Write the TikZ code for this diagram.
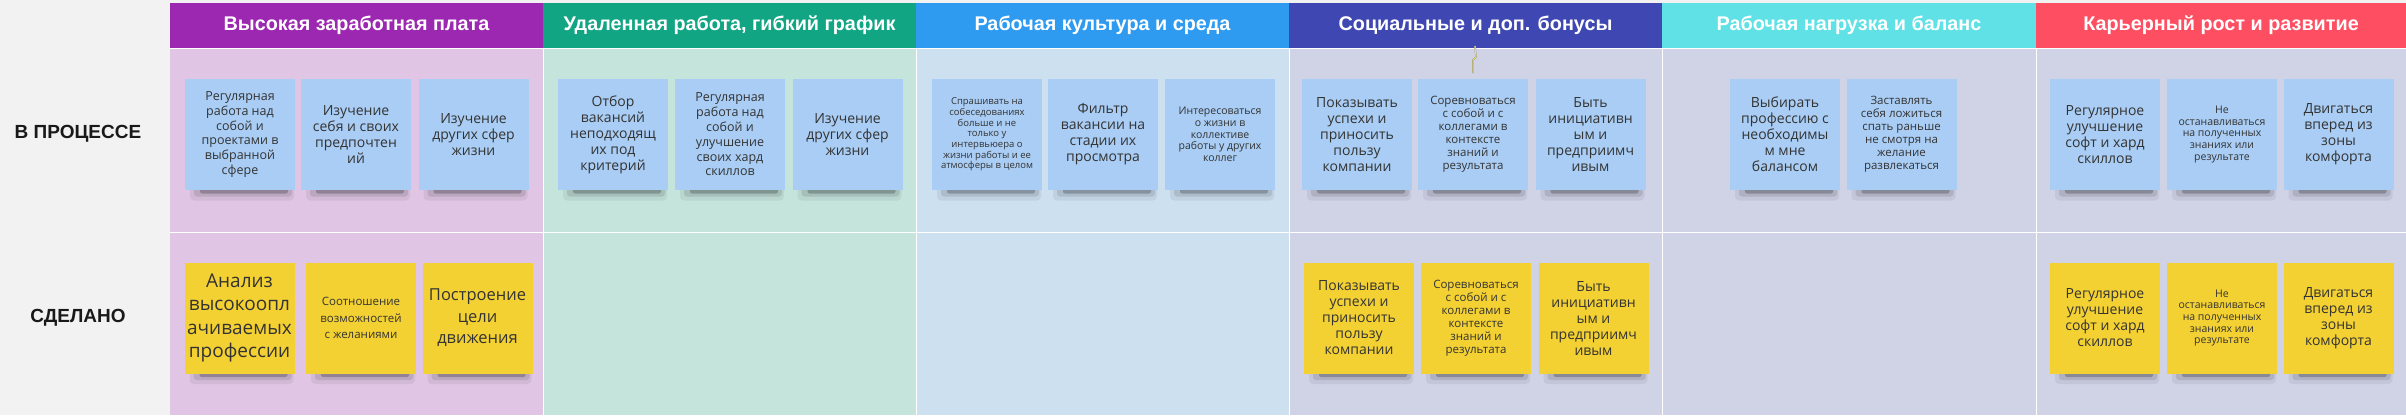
\documentclass[tikz,border=0pt]{standalone}
\usepackage{fontspec}
\setmainfont{Open Sans}
\newfontfamily\hdrfont{Liberation Sans}
\definecolor{leftbg}{HTML}{F2F2F2}
\definecolor{hA}{HTML}{9C27B0}
\definecolor{hB}{HTML}{12A584}
\definecolor{hC}{HTML}{2E9BF0}
\definecolor{hD}{HTML}{3F48B2}
\definecolor{hE}{HTML}{5FE1E6}
\definecolor{hF}{HTML}{FE4F62}
\definecolor{bA}{HTML}{E0C6E4}
\definecolor{bB}{HTML}{C5E4DC}
\definecolor{bC}{HTML}{CDE0F0}
\definecolor{bD}{HTML}{D0D2E6}
\definecolor{noteblue}{HTML}{A9CDF4}
\definecolor{noteyellow}{HTML}{F4D132}
\definecolor{notetext}{HTML}{333333}
\definecolor{squig}{HTML}{F0E040}
\tikzset{
  note/.style={minimum width=110pt, minimum height=111pt, inner sep=0pt, text=notetext, align=center},
  bnote/.style={fill=noteblue},
  ynote/.style={fill=noteyellow},
  fA/.style={font=\fontsize{14}{16}\selectfont},
  fB/.style={font=\fontsize{12.5}{14.8}\selectfont},
  fC/.style={font=\fontsize{11.5}{13}\selectfont},
  fD/.style={font=\fontsize{10.5}{11.7}\selectfont},
  fE/.style={font=\fontsize{9.5}{10.7}\selectfont},
  fF/.style={font=\fontsize{19}{23.5}\selectfont},
  fG/.style={font=\fontsize{16.5}{21.5}\selectfont},
  fS/.style={font=\fontsize{11.5}{16.5}\selectfont},
  header/.style={text=white, font=\hdrfont\bfseries\fontsize{19.8}{22}\selectfont},
  rowlabel/.style={text=black!90, font=\hdrfont\bfseries\fontsize{19}{22}\selectfont},
  divider/.style={draw=white, line width=0.8pt},
}
\newcommand\sticky[5]{%
  \fill[black,opacity=0.06,rounded corners=4pt] ({#2-50},{#3+48}) rectangle ({#2+54},{#3+66});
  \fill[black,opacity=0.10,rounded corners=3pt] ({#2-46},{#3+52}) rectangle ({#2+52},{#3+62});
  \fill[black,opacity=0.22,rounded corners=2pt] ({#2-40},{#3+54}) rectangle ({#2+48},{#3+59});
  \node[note,#4] (#1) at (#2,#3) {#5};
}
\begin{document}
\begin{tikzpicture}[x=1pt,y=-1pt]
\useasboundingbox (0,0) rectangle (2406,415);
\fill[leftbg] (0,0) rectangle (2406,415);
% column backgrounds
\fill[bA] (170,48) rectangle (543,415);
\fill[bB] (543,48) rectangle (916,415);
\fill[bC] (916,48) rectangle (1289,415);
\fill[bD] (1289,48) rectangle (2406,415);
% headers
\fill[hA] (170,3) rectangle (543,48);
\fill[hB] (543,3) rectangle (916,48);
\fill[hC] (916,3) rectangle (1289,48);
\fill[hD] (1289,3) rectangle (1662,48);
\fill[hE] (1662,3) rectangle (2036,48);
\fill[hF] (2036,3) rectangle (2406,48);
% dividers
\draw[divider] (170,232) -- (2406,232);
\foreach \xx in {543,916,1289,1662,2036} \draw[divider] (\xx,48) -- (\xx,415);
\draw[divider] (170,48) -- (2406,48);
% header texts
\node[header] (h1) at (356.5,25) {Высокая заработная плата};
\node[header] (h2) at (729.5,25) {Удаленная работа, гибкий график};
\node[header] (h3) at (1102.5,25) {Рабочая культура и среда};
\node[header] (h4) at (1475.5,25) {Социальные и доп. бонусы};
\node[header] (h5) at (1849,25) {Рабочая нагрузка и баланс};
\node[header] (h6) at (2221,25) {Карьерный рост и развитие};
% row labels
\node[rowlabel] (r1) at (78,134) {В ПРОЦЕССЕ};
\node[rowlabel] (r2) at (78,318) {СДЕЛАНО};
% stray yellow squiggle
\coordinate (sqa) at (1475,46);
\coordinate (sqb) at (1473,73);
\draw[black!40,line width=1.6pt] (sqa) -- ++(1,11) -- ++(-3,3) -- (sqb);
\draw[squig,line width=1pt] (sqa) -- ++(1,11) -- ++(-3,3) -- (sqb);
% column 1
\sticky{c1p1}{240}{134.5}{bnote,fB}{Регулярная\\работа над\\собой и\\проектами в\\выбранной\\сфере}
\sticky{c1p2}{356}{134.5}{bnote,fA}{Изучение\\себя и своих\\предпочтен\\ий}
\sticky{c1p3}{473.5}{134.5}{bnote,fA}{Изучение\\других сфер\\жизни}
\sticky{c1d1}{239.5}{318}{ynote,fF}{Анализ\\высокоопл\\ачиваемых\\профессии}
\sticky{c1d2}{361}{318}{ynote,fS}{Соотношение\\возможностей\\с желаниями}
\sticky{c1d3}{477.5}{318}{ynote,fG}{Построение\\цели\\движения}
% column 2
\sticky{c2p1}{613}{134.5}{bnote,fA}{Отбор\\вакансий\\неподходящ\\их под\\критерий}
\sticky{c2p2}{730}{134.5}{bnote,fB}{Регулярная\\работа над\\собой и\\улучшение\\своих хард\\скиллов}
\sticky{c2p3}{847.5}{134.5}{bnote,fA}{Изучение\\других сфер\\жизни}
% column 3
\sticky{c3p1}{987}{134.5}{bnote,fE}{Спрашивать на\\собеседованиях\\больше и не\\только у\\интервьюера о\\жизни работы и ее\\атмосферы в целом}
\sticky{c3p2}{1103}{134.5}{bnote,fA}{Фильтр\\вакансии на\\стадии их\\просмотра}
\sticky{c3p3}{1220}{134.5}{bnote,fD}{Интересоваться\\о жизни в\\коллективе\\работы у других\\коллег}
% column 4
\sticky{c4p1}{1357}{134.5}{bnote,fA}{Показывать\\успехи и\\приносить\\пользу\\компании}
\sticky{c4p2}{1473}{134.5}{bnote,fC}{Соревноваться\\с собой и с\\коллегами в\\контексте\\знаний и\\результата}
\sticky{c4p3}{1590.5}{134.5}{bnote,fA}{Быть\\инициативн\\ым и\\предприимч\\ивым}
\sticky{c4d1}{1359}{318}{ynote,fA}{Показывать\\успехи и\\приносить\\пользу\\компании}
\sticky{c4d2}{1476}{318}{ynote,fC}{Соревноваться\\с собой и с\\коллегами в\\контексте\\знаний и\\результата}
\sticky{c4d3}{1593.5}{318}{ynote,fA}{Быть\\инициативн\\ым и\\предприимч\\ивым}
% column 5
\sticky{c5p1}{1785}{134.5}{bnote,fA}{Выбирать\\профессию с\\необходимы\\м мне\\балансом}
\sticky{c5p2}{1901.5}{134.5}{bnote,fC}{Заставлять\\себя ложиться\\спать раньше\\не смотря на\\желание\\развлекаться}
% column 6
\sticky{c6p1}{2105}{134.5}{bnote,fA}{Регулярное\\улучшение\\софт и хард\\скиллов}
\sticky{c6p2}{2222}{134.5}{bnote,fD}{Не\\останавливаться\\на полученных\\знаниях или\\результате}
\sticky{c6p3}{2338.5}{134.5}{bnote,fA}{Двигаться\\вперед из\\зоны\\комфорта}
\sticky{c6d1}{2105}{318}{ynote,fA}{Регулярное\\улучшение\\софт и хард\\скиллов}
\sticky{c6d2}{2222}{318}{ynote,fD}{Не\\останавливаться\\на полученных\\знаниях или\\результате}
\sticky{c6d3}{2338.5}{318}{ynote,fA}{Двигаться\\вперед из\\зоны\\комфорта}
\end{tikzpicture}
\end{document}
